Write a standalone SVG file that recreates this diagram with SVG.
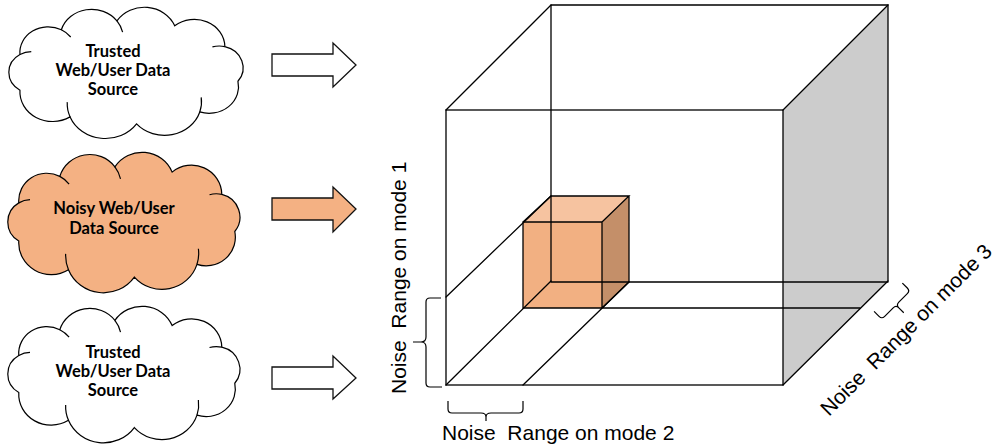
<svg xmlns="http://www.w3.org/2000/svg" width="999" height="448" viewBox="0 0 999 448">
  <style>
    .edge { fill: none; stroke: #000; stroke-width: 1.3; stroke-linecap: round; }
    .brace { fill: none; stroke: #000; stroke-width: 1.2; stroke-linejoin: round; }
    .arrow { stroke: #111; stroke-width: 1.3; stroke-linejoin: miter; }
    .cloud-txt { font-family: Lato, "Liberation Sans", Arial, sans-serif; font-weight: bold; font-size: 16.5px; fill: #000; text-anchor: middle; }
    .axis-txt { font-family: "Liberation Sans", Arial, sans-serif; font-size: 21px; fill: #000; }
  </style>
  <defs>
    <!-- cloud outline, drawn in a local box of about 6..221 x 0..132 -->
    <g id="cloud-shape">
      <path vector-effect="non-scaling-stroke" stroke="#000" stroke-width="1.2"
            d="M16,48 A26,26 0 0 1 54,23 A29,29 0 0 1 105,14 A30,30 0 0 1 158,19 A28,28 0 0 1 204,40 A22,22 0 0 1 216,75 A27,27 0 0 1 181,106 A34,34 0 0 1 123,118 A35,35 0 0 1 62,111 A30,30 0 0 1 16,84 A21,21 0 0 1 16,48 Z"/>
      <path vector-effect="non-scaling-stroke" fill="none" stroke="#000" stroke-width="1.2"
            d="M54,23 A26,26 0 0 1 62.6,30.3 M105,14 A29,29 0 0 1 110.2,25.4 M204,40 A22,22 0 0 0 192.6,40.3 M181,106 A34,34 0 0 0 182.3,91.3 M62,111 A35,35 0 0 1 59.4,96.1 M16,48 A21,21 0 0 1 26.4,45"/>
    </g>
  </defs>

  <!-- data sources -->
  <g id="source-trusted-1">
    <use href="#cloud-shape" fill="#fff" transform="translate(2.5,7) scale(1.09,0.99)"/>
    <text class="cloud-txt" x="113" y="57">Trusted</text>
    <text class="cloud-txt" x="113" y="76">Web/User Data</text>
    <text class="cloud-txt" x="113" y="95">Source</text>
  </g>
  <g id="source-noisy">
    <use href="#cloud-shape" fill="#F4B183" transform="translate(1.5,152) scale(1.08,1.06)"/>
    <text class="cloud-txt" x="114" y="214">Noisy Web/User</text>
    <text class="cloud-txt" x="114" y="234">Data Source</text>
  </g>
  <g id="source-trusted-2">
    <use href="#cloud-shape" fill="#fff" transform="translate(1.5,306) scale(1.08,1.03)"/>
    <text class="cloud-txt" x="113" y="358">Trusted</text>
    <text class="cloud-txt" x="113" y="377">Web/User Data</text>
    <text class="cloud-txt" x="113" y="396">Source</text>
  </g>

  <!-- block arrows feeding the tensor -->
  <g id="connectors">
    <polygon class="arrow" fill="#fff" points="272,54 333,54 333,43 356,65 333,87 333,76 272,76"/>
    <polygon class="arrow" fill="#F4B183" points="272,198 333,198 333,187 356,209 333,232 333,220 272,220"/>
    <polygon class="arrow" fill="#fff" points="272,367 333,367 333,356 356,378 333,399 333,389 272,389"/>
  </g>

  <!-- tensor cube -->
  <g id="tensor">
    <polygon fill="#cccccc" points="783,110 888,5 888,281 783,385"/>
    <!-- noisy sub-block -->
    <g id="noisy-block">
      <polygon fill="#F2B082" points="523,222 602,222 602,308 523,308"/>
      <polygon fill="#F6C3A0" points="523,222 551,196 629,196 602,222"/>
      <polygon fill="#C48F69" points="602,222 629,196 629,282 602,308"/>
      <path class="edge" d="M523,222 H602 V308 H523 Z M523,222 L551,196 H629 L602,222 M629,196 V282 L602,308"/>
    </g>
    <!-- back face -->
    <path class="edge" d="M551,5 H888 V281 M551,5 V282 M551,282 H888"/>
    <!-- front face -->
    <rect class="edge" x="446" y="110" width="337" height="275"/>
    <!-- receding edges -->
    <path class="edge" d="M446,110 L551,5 M783,110 L888,5 M783,385 L888,281 M446,385 L551,281"/>
    <!-- noise range planes -->
    <path class="edge" d="M446,297 L551,196 M523,385 L629,282 M602,308 H860"/>
  </g>

  <!-- range labels -->
  <g id="range-mode-1">
    <path class="brace" d="M441,298 L430,298 Q426,298 426,302 L426,337 Q426,342 421,342 L413,342 M421,342 Q426,342 426,347 L426,383 Q426,387 430,387 L442,387"/>
    <text class="axis-txt" xml:space="preserve" transform="translate(406,394) rotate(-90)">Noise  Range on mode 1</text>
  </g>
  <g id="range-mode-2">
    <path class="brace" d="M448,401 L448,409 Q448,413 452,413 L481,413 Q486,413 486,417 L486,421 M486,417 Q486,413 491,413 L519,413 Q523,413 523,409 L523,401"/>
    <text class="axis-txt" xml:space="preserve" x="442" y="440">Noise  Range on mode 2</text>
  </g>
  <g id="range-mode-3">
    <path class="brace" transform="translate(896,305) rotate(-45)" d="M-20,-11 L-20,-4 Q-20,0 -16,0 L-4,0 Q0,0 0,4 L0,11 M0,4 Q0,0 4,0 L16,0 Q20,0 20,-4 L20,-11"/>
    <text class="axis-txt" xml:space="preserve" transform="translate(829,417) rotate(-45)">Noise  Range on mode 3</text>
  </g>
</svg>
